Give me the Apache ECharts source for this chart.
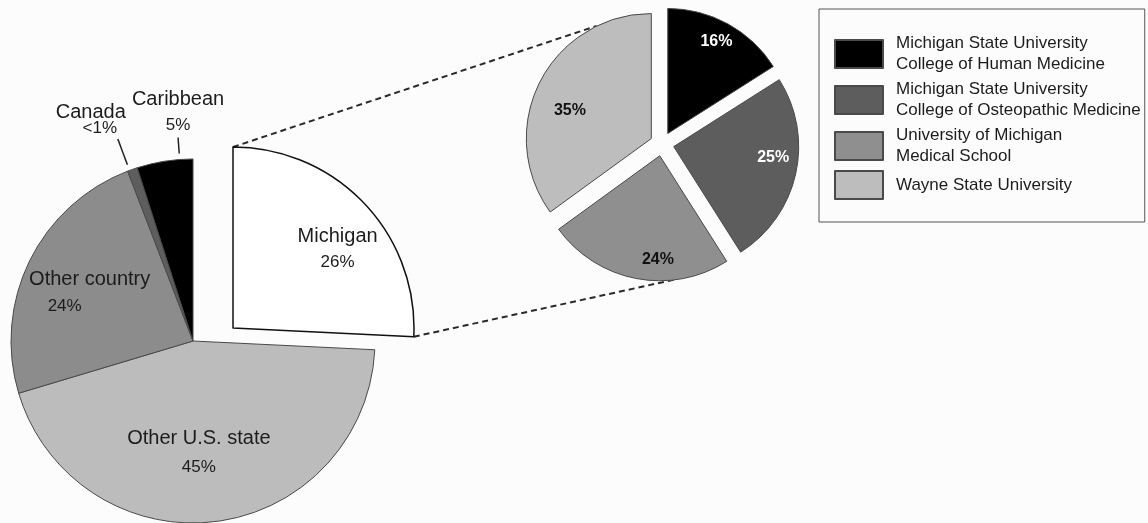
<!DOCTYPE html>
<html>
<head>
<meta charset="utf-8">
<script src="https://cdn.jsdelivr.net/npm/echarts@6/dist/echarts.min.js"></script>
<style>
  html, body { margin: 0; padding: 0; background: #fcfcfc; }
  #chart { width: 1148px; height: 523px; }
</style>
</head>
<body>
<div id="chart"></div>
<script>
// where the students come from
const originNames = ['Michigan', 'Other U.S. state', 'Other country', 'Canada', 'Caribbean']
const originValues = [26, 45, 24, 0.9, 5]
const originLabels = ['26%', '45%', '24%', '<1%', '5%']

// breakdown of the Michigan slice
const schoolNames = [
  'Michigan State University\nCollege of Human Medicine',
  'Michigan State University\nCollege of Osteopathic Medicine',
  'University of Michigan\nMedical School',
  'Wayne State University'
]
const schoolValues = [16, 25, 24, 35]

// styling
const FONT = 'Liberation Sans, Arial, sans-serif'
const TXT = '#1c1c1c'
const originColors = ['#ffffff', '#bcbcbc', '#8c8c8c', '#5e5e5e', '#000000']
const schoolColors = ['#000000', '#5d5d5d', '#8f8f8f', '#bdbdbd']
const schoolLabelColors = ['#ffffff', '#ffffff', '#111111', '#111111']

const mainCenter = [193, 341], mainR = 182
const michCenter = [233, 328], michR = 181
const zoomCenter = [662, 144], zoomR = 125, zoomOffset = 12

// label spots: [angle clockwise from 12 o'clock, distance from centre]
const mainSpots = [null, [177, 112], [295, 114], null, null]
const michSpots = [[53, 131]]
const zoomSpots = [[28, 116], [97, 112], [182, 116], [290, 98]]
// callout labels (Canada, Caribbean): label shift from the leader end, line end relative to label
const callouts = {
  3: { label: [-33.6, -10.7], line: [27, 3] },
  4: { label: [17, -2], line: [0, 2] }
}

const total = originValues.reduce((a, b) => a + b, 0)

function polar(c, deg, d) {
  const a = deg * Math.PI / 180
  return [c[0] + d * Math.sin(a), c[1] - d * Math.cos(a)]
}

function placeAt(center, spots) {
  return p => {
    const s = spots[p.dataIndex]
    if (!s) return {}
    const [x, y] = polar(center, s[0], s[1])
    return { x, y, align: 'center', verticalAlign: 'middle' }
  }
}

function rich(nLH, pLH, pPad) {
  return {
    n: { fontFamily: FONT, fontSize: 20, lineHeight: nLH, color: TXT },
    p: { fontFamily: FONT, fontSize: 17, lineHeight: pLH, color: TXT, padding: pPad || 0 }
  }
}
const originRich = [rich(26, 26), rich(28, 28), rich(26, 26, [0, 50, 0, 0]), rich(16, 16, [0, 0, 0, 18]), rich(32, 20)]
const originText = i => `{n|${originNames[i]}}\n{p|${originLabels[i]}}`

const chart = echarts.init(document.getElementById('chart'))

const mainSeries = {
  type: 'pie',
  silent: true,
  animation: false,
  center: mainCenter,
  radius: mainR,
  startAngle: 90,
  clockwise: true,
  avoidLabelOverlap: false,
  data: originNames.map((name, i) => ({
    name,
    value: originValues[i],
    itemStyle: i === 0
      ? { color: 'transparent', borderWidth: 0 }
      : { color: originColors[i], borderColor: '#4a4a4a', borderWidth: 1 },
    label: {
      show: i !== 0,
      position: callouts[i] ? 'outside' : 'inside',
      formatter: originText(i),
      rich: originRich[i]
    },
    labelLine: { show: !!callouts[i] }
  })),
  labelLine: { length: 24, length2: 0, lineStyle: { color: '#222', width: 1.5 } },
  labelLayout(p) {
    const c = callouts[p.dataIndex]
    if (c && p.labelLinePoints) {
      const b = p.labelLinePoints[1]
      const x = b[0] + c.label[0]
      const y = b[1] + c.label[1]
      const end = [x + c.line[0], y + c.line[1]]
      const dx = end[0] - mainCenter[0], dy = end[1] - mainCenter[1]
      const k = (mainR + 6) / Math.hypot(dx, dy)
      const start = [mainCenter[0] + dx * k, mainCenter[1] + dy * k]
      return { x, y, align: 'center', verticalAlign: 'bottom', labelLinePoints: [start, end] }
    }
    return placeAt(mainCenter, mainSpots)(p)
  }
}

// the pulled-out Michigan slice
const michSeries = {
  type: 'pie',
  silent: true,
  animation: false,
  center: michCenter,
  radius: michR,
  startAngle: 90,
  clockwise: true,
  data: originNames.map((name, i) => ({
    name,
    value: originValues[i],
    itemStyle: i === 0
      ? { color: originColors[0], borderColor: '#111', borderWidth: 1.5 }
      : { color: 'transparent', borderWidth: 0 },
    label: { show: i === 0, position: 'inside', formatter: originText(i), rich: originRich[i] },
    labelLine: { show: false }
  })),
  labelLayout: placeAt(michCenter, michSpots)
}

const zoomSeries = {
  type: 'pie',
  silent: true,
  animation: false,
  center: zoomCenter,
  radius: zoomR,
  startAngle: 90,
  clockwise: true,
  selectedMode: 'multiple',
  selectedOffset: zoomOffset,
  data: schoolNames.map((name, i) => ({
    name,
    value: schoolValues[i],
    selected: true,
    itemStyle: { color: schoolColors[i], borderColor: '#4a4a4a', borderWidth: 1 }
  })),
  label: { show: false },
  labelLine: { show: false }
}

// percentages of the breakdown pie (selected slices ignore labelLayout, so a clear overlay carries them)
const zoomLabelSeries = {
  type: 'pie',
  silent: true,
  animation: false,
  z: 5,
  center: zoomCenter,
  radius: zoomR,
  startAngle: 90,
  clockwise: true,
  data: schoolNames.map((name, i) => ({
    name,
    value: schoolValues[i],
    itemStyle: { color: 'transparent', borderWidth: 0 },
    label: { color: schoolLabelColors[i] }
  })),
  label: {
    show: true,
    position: 'inside',
    formatter: '{c}%',
    fontFamily: FONT,
    fontSize: 16,
    fontWeight: 'bold'
  },
  labelLine: { show: false },
  labelLayout: placeAt(zoomCenter, zoomSpots)
}

// dashed connectors from the Michigan slice to the breakdown pie
const michEndDeg = originValues[0] / total * 360
const connectors = [
  [polar(michCenter, 0, michR), polar(zoomCenter, 331, zoomR + zoomOffset - 2)],
  [polar(michCenter, michEndDeg, michR), polar(zoomCenter, 174, zoomR + zoomOffset - 1)]
]

chart.setOption({
  backgroundColor: '#fcfcfc',
  animation: false,
  legend: {
    data: schoolNames,
    orient: 'vertical',
    left: 819,
    top: 9,
    padding: [23, 4, 22, 15],
    itemGap: 2,
    itemWidth: 48,
    itemHeight: 28,
    icon: 'rect',
    selectedMode: false,
    borderColor: '#555',
    borderWidth: 1,
    textStyle: { fontFamily: FONT, fontSize: 17, lineHeight: 21, color: TXT, padding: [2, 0, 0, 8] }
  },
  graphic: connectors.map(([a, b]) => ({
    type: 'line',
    silent: true,
    z: 1,
    shape: { x1: a[0], y1: a[1], x2: b[0], y2: b[1] },
    style: { stroke: '#2a2a2a', lineWidth: 2, lineDash: [6, 4] }
  })),
  series: [mainSeries, michSeries, zoomSeries, zoomLabelSeries]
})

window.addEventListener('resize', () => chart.resize())
</script>
</body>
</html>
